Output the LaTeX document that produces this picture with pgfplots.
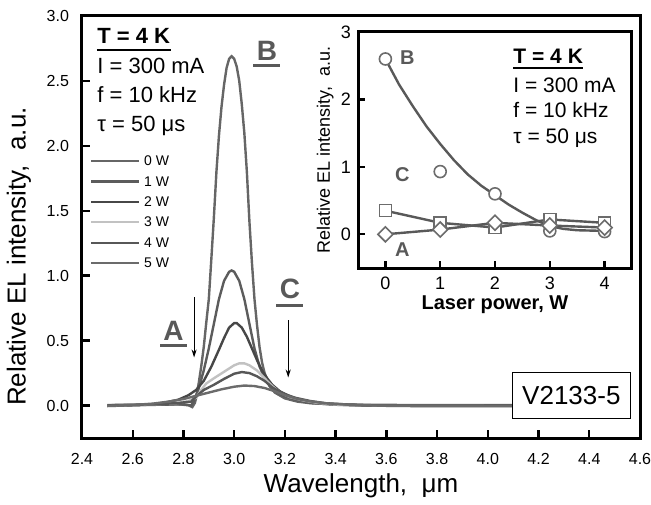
\documentclass[border=0pt]{standalone}
\usepackage{fontspec}
\setmainfont{Liberation Sans}
\usepackage{pgfplots}
\pgfplotsset{compat=1.18}
\usetikzlibrary{arrows.meta}
\definecolor{cA}{gray}{0.40}
\definecolor{cB}{gray}{0.36}
\definecolor{cC}{gray}{0.28}
\definecolor{cD}{gray}{0.76}
\definecolor{cE}{gray}{0.34}
\definecolor{cF}{gray}{0.42}
\definecolor{lab}{gray}{0.35}
\begin{document}
\begin{tikzpicture}
\begin{axis}[
  at={(0,0)}, anchor=south west,
  width=279pt, height=211pt, scale only axis,
  xmin=2.4, xmax=4.6, ymin=-0.25, ymax=3.0,
  xtick={2.4,2.6,2.8,3.0,3.2,3.4,3.6,3.8,4.0,4.2,4.4,4.6},
  ytick={0,0.5,1.0,1.5,2.0,2.5,3.0},
  tick align=inside, tick pos=left,
  major tick length=4pt,
  axis line style={line width=1.5pt},
  every tick/.style={black, line width=1.2pt},
  /pgf/number format/assume math mode=true,
  tick label style={font=\fontsize{8}{9.5}\selectfont},
  xticklabel style={/pgf/number format/.cd, fixed, fixed zerofill, precision=1, /tikz/.cd, yshift=-4pt},
  yticklabel style={/pgf/number format/.cd, fixed, fixed zerofill, precision=1, /tikz/.cd, xshift=-3pt},
  xlabel={Wavelength,\ \ μm},
  ylabel={Relative EL intensity,\ \ a.u.},
  xlabel style={font=\fontsize{13}{15}\selectfont, at={(axis description cs:0.5,-0.113)}, anchor=center},
  ylabel style={font=\fontsize{13}{15}\selectfont, at={(axis description cs:-0.113,0.43)}, anchor=center},
  clip=false,
  legend style={at={(axis cs:2.406,1.966)}, anchor=north west, draw=none, fill=none,
    font=\fontsize{7}{8}\selectfont, row sep=3.7pt,
    nodes={inner sep=0pt, text height=5.5pt, text depth=1pt}},
  legend cell align=left,
  legend image code/.code={\draw[#1, line width=1.1pt] (0pt,0pt) -- (24pt,0pt);},
  /tikz/every odd column/.style={column sep=2pt},
]
% 0 W
\addplot[cA, line width=1.2pt] coordinates {
(2.50,0.004)(2.60,0.006)(2.70,0.008)(2.78,0.010)(2.82,0.002)(2.835,-0.012)(2.845,0.02)
(2.85,0.06)(2.86,0.17)(2.87,0.30)(2.88,0.45)(2.89,0.64)(2.90,0.82)(2.91,1.13)(2.92,1.45)
(2.93,1.80)(2.94,2.08)(2.95,2.30)(2.96,2.47)(2.97,2.60)(2.98,2.67)(2.99,2.69)(3.00,2.67)
(3.01,2.61)(3.02,2.50)(3.03,2.32)(3.04,2.10)(3.05,1.80)(3.06,1.42)(3.07,1.10)(3.08,0.82)
(3.09,0.62)(3.10,0.45)(3.11,0.33)(3.12,0.25)(3.14,0.15)(3.16,0.10)(3.20,0.055)(3.25,0.03)
(3.30,0.018)(3.40,0.009)(3.50,0.006)(3.70,0.004)(4.00,0.004)(4.28,0.004)};
\addlegendentry{0 W}
% 1 W
\addplot[cB, line width=1.2pt] coordinates {
(2.50,0.000)(2.70,0.006)(2.80,0.010)(2.83,0.000)(2.84,0.03)(2.86,0.13)(2.88,0.27)(2.90,0.44)
(2.92,0.63)(2.94,0.82)(2.96,0.96)(2.98,1.03)(2.99,1.04)(3.00,1.03)(3.02,0.96)(3.04,0.82)
(3.06,0.63)(3.08,0.44)(3.10,0.30)(3.12,0.21)(3.14,0.15)(3.17,0.10)(3.20,0.07)(3.25,0.04)
(3.30,0.02)(3.40,0.006)(3.50,0.002)(3.70,0)(4.28,0)};
\addlegendentry{1 W}
% 2 W
\addplot[cC, line width=1.2pt] coordinates {
(2.50,-0.004)(2.65,0.005)(2.72,0.02)(2.78,0.045)(2.82,0.08)(2.85,0.12)(2.88,0.19)(2.91,0.30)
(2.94,0.43)(2.96,0.52)(2.98,0.60)(3.00,0.635)(3.01,0.635)(3.03,0.60)(3.05,0.53)(3.07,0.44)
(3.09,0.35)(3.11,0.27)(3.13,0.21)(3.15,0.16)(3.18,0.11)(3.22,0.07)(3.27,0.04)(3.33,0.02)
(3.40,0.008)(3.50,0.000)(3.70,-0.004)(4.28,-0.004)};
\addlegendentry{2 W}
% 3 W
\addplot[cD, line width=1.2pt] coordinates {
(2.50,0)(2.70,0.01)(2.78,0.02)(2.82,0.035)(2.85,0.06)(2.87,0.12)(2.89,0.17)(2.92,0.21)
(2.96,0.26)(3.00,0.31)(3.02,0.325)(3.04,0.325)(3.06,0.31)(3.09,0.27)(3.12,0.21)(3.15,0.15)
(3.18,0.10)(3.22,0.065)(3.27,0.04)(3.33,0.02)(3.40,0.008)(3.50,0.002)(4.28,0)};
\addlegendentry{3 W}
% 4 W
\addplot[cE, line width=1.2pt] coordinates {
(2.50,0.002)(2.70,0.01)(2.78,0.02)(2.83,0.03)(2.85,0.07)(2.88,0.12)(2.92,0.16)(2.96,0.205)
(3.00,0.245)(3.03,0.258)(3.06,0.25)(3.09,0.225)(3.12,0.19)(3.15,0.14)(3.19,0.095)(3.24,0.06)
(3.30,0.035)(3.36,0.018)(3.45,0.008)(3.55,0.002)(4.28,0.002)};
\addlegendentry{4 W}
% 5 W
\addplot[cF, line width=1.2pt] coordinates {
(2.50,-0.002)(2.60,0.004)(2.68,0.015)(2.74,0.03)(2.80,0.05)(2.85,0.075)(2.90,0.10)(2.95,0.125)
(3.00,0.145)(3.04,0.154)(3.08,0.15)(3.12,0.135)(3.16,0.11)(3.20,0.08)(3.25,0.05)(3.30,0.032)
(3.36,0.018)(3.45,0.007)(3.55,0.000)(4.28,-0.002)};
\addlegendentry{5 W}

% text block
\node[anchor=base west, inner sep=0pt, font=\fontsize{11}{13}\selectfont\bfseries] (t1) at (axis cs:2.459,2.791) {T = 4 K};
\draw[line width=1pt] ([yshift=-3.5pt]t1.base west) -- ([yshift=-3.5pt]t1.base east);
\node[anchor=base west, inner sep=0pt, font=\fontsize{11}{13}\selectfont] at (axis cs:2.459,2.560) {I = 300 mA};
\node[anchor=base west, inner sep=0pt, font=\fontsize{11}{13}\selectfont] at (axis cs:2.459,2.336) {f = 10 kHz};
\node[anchor=base west, inner sep=0pt, font=\fontsize{11}{13}\selectfont] at (axis cs:2.459,2.113) {τ = 50 μs};

% A B C labels
\node[anchor=base, inner sep=0pt, text=lab, font=\fontsize{14}{16}\selectfont\bfseries] (lB) at (axis cs:3.129,2.66) {B};
\draw[lab, line width=1.5pt] ([xshift=-1.5pt,yshift=-2.5pt]lB.base west) -- ([xshift=1.5pt,yshift=-2.5pt]lB.base east);
\node[anchor=base, inner sep=0pt, text=lab, font=\fontsize{14}{16}\selectfont\bfseries] (lA) at (axis cs:2.761,0.501) {A};
\draw[lab, line width=1.5pt] ([xshift=-1.5pt,yshift=-2.5pt]lA.base west) -- ([xshift=1.5pt,yshift=-2.5pt]lA.base east);
\node[anchor=base, inner sep=0pt, text=lab, font=\fontsize{14}{16}\selectfont\bfseries] (lC) at (axis cs:3.22,0.825) {C};
\draw[lab, line width=1.5pt] ([xshift=-1.5pt,yshift=-3.5pt]lC.base west) -- ([xshift=1.5pt,yshift=-3.5pt]lC.base east);

% arrows
\draw[line width=0.6pt, -{Stealth[length=4pt, width=2.5pt]}] (axis cs:2.842,0.833) -- (axis cs:2.842,0.37);
\draw[line width=0.6pt, -{Stealth[length=4pt, width=2.5pt]}] (axis cs:3.213,0.655) -- (axis cs:3.213,0.216);

% sample box
\node[draw, line width=0.6pt, fill=white, anchor=east, inner xsep=5pt, minimum height=23pt,
  font=\fontsize{13}{15}\selectfont] at (axis cs:4.565,0.077) {V2133-5};
\end{axis}

\begin{axis}[
  at={(138pt,85pt)}, anchor=south west,
  width=137pt, height=118pt, scale only axis,
  xmin=-0.5, xmax=4.5, ymin=-0.5, ymax=3,
  xtick={0,1,2,3,4}, ytick={0,1,2,3},
  tick align=inside, tick pos=left,
  major tick length=3.5pt,
  axis line style={line width=1.5pt},
  every tick/.style={black, line width=1.2pt},
  axis background/.style={fill=white},
  /pgf/number format/assume math mode=true,
  tick label style={font=\fontsize{9}{10}\selectfont},
  xticklabel style={yshift=-1pt},
  xlabel={Laser power, W},
  ylabel={Relative EL intensity,\ \ a.u.},
  xlabel style={font=\fontsize{10}{12}\selectfont\bfseries, at={(axis description cs:0.5,-0.155)}, anchor=center},
  ylabel style={font=\fontsize{9}{11}\selectfont, at={(axis description cs:-0.12,0.5)}, anchor=center},
  clip=false,
]
\addplot[lab, line width=1.2pt] coordinates {
(0,2.6)(0.25,2.22)(0.5,1.9)(0.75,1.6)(1,1.34)(1.25,1.1)(1.5,0.89)(1.75,0.72)(2,0.58)
(2.25,0.44)(2.5,0.32)(2.75,0.21)(3,0.12)(3.25,0.08)(3.5,0.06)(4,0.05)};
\addplot[lab, line width=1.2pt] coordinates {(0,0.35)(1,0.17)(2,0.10)(3,0.22)(4,0.17)};
\addplot[lab, line width=1.2pt] coordinates {(0,0.0)(1,0.07)(2,0.17)(3,0.13)(4,0.10)};
\addplot[only marks, mark=*, mark size=3pt, mark options={draw=gray!85!black, fill=white, line width=0.8pt}]
  coordinates {(0,2.6)(1,0.93)(2,0.6)(3,0.05)(4,0.04)};
\addplot[only marks, mark=square*, mark size=3pt, mark options={draw=gray!85!black, fill=white, line width=0.8pt}]
  coordinates {(0,0.35)(1,0.17)(2,0.10)(3,0.22)(4,0.17)};
\addplot[only marks, mark=square*, mark size=2.65pt, mark options={rotate=45, draw=gray!85!black, fill=white, line width=0.8pt}]
  coordinates {(0,0.0)(1,0.07)(2,0.17)(3,0.13)(4,0.10)};

\node[text=lab, font=\fontsize{10}{12}\selectfont\bfseries] at (axis cs:0.4,2.62) {B};
\node[text=lab, font=\fontsize{10}{12}\selectfont\bfseries] at (axis cs:0.31,0.88) {C};
\node[text=lab, font=\fontsize{10}{12}\selectfont\bfseries] at (axis cs:0.31,-0.22) {A};

\node[anchor=base west, inner sep=0pt, font=\fontsize{10.5}{12}\selectfont\bfseries] (u1) at (axis cs:2.33,2.53) {T = 4 K};
\draw[line width=0.9pt] ([yshift=-2pt]u1.base west) -- ([yshift=-2pt]u1.base east);
\node[anchor=base west, inner sep=0pt, font=\fontsize{10.5}{12}\selectfont] at (axis cs:2.33,2.10) {I = 300 mA};
\node[anchor=base west, inner sep=0pt, font=\fontsize{10.5}{12}\selectfont] at (axis cs:2.33,1.735) {f = 10 kHz};
\node[anchor=base west, inner sep=0pt, font=\fontsize{10.5}{12}\selectfont] at (axis cs:2.33,1.353) {τ = 50 μs};
\end{axis}
\pgfresetboundingbox
\path (-41pt,-33pt) rectangle (284.5pt,219pt);
\end{tikzpicture}
\end{document}
